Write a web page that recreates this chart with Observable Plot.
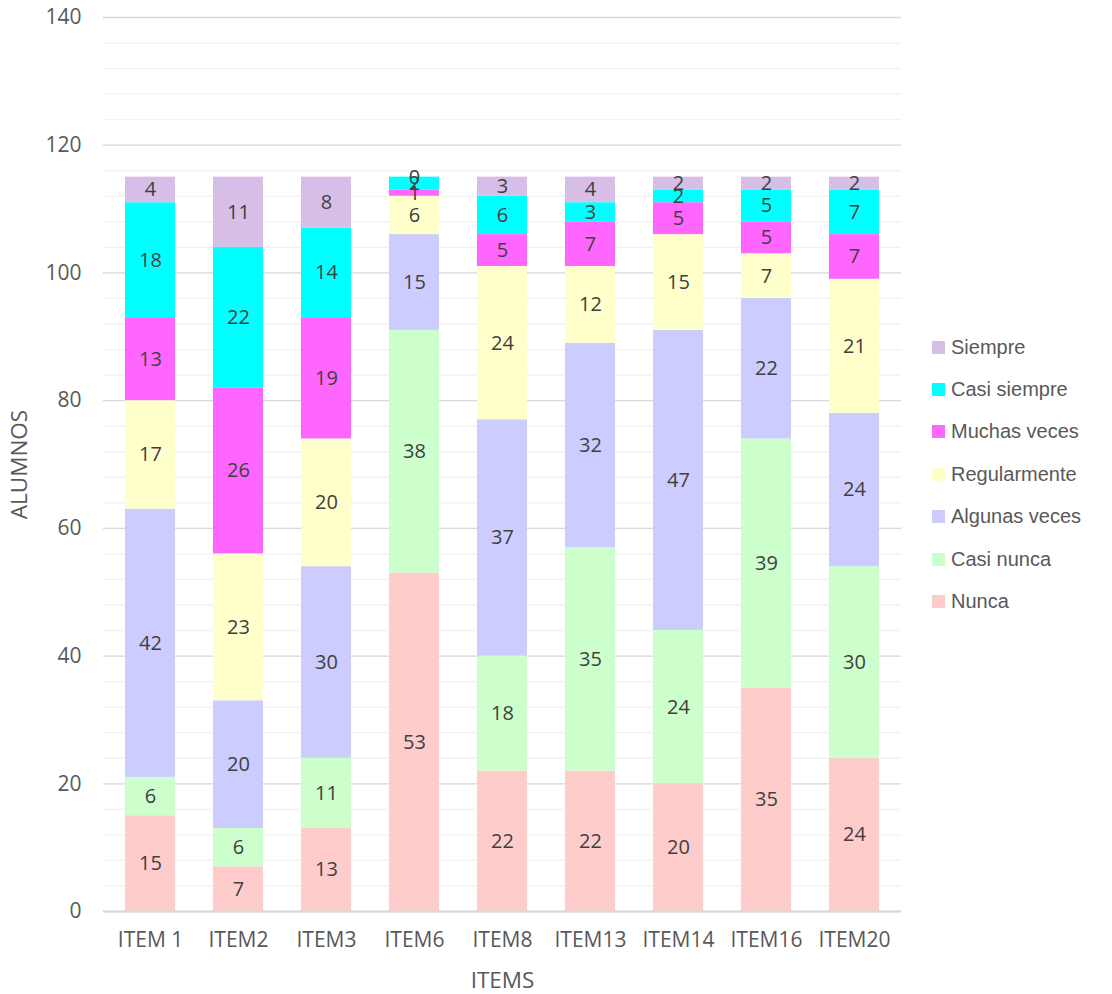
<!DOCTYPE html>
<html>
<head>
<meta charset="utf-8">
<script src="https://cdn.jsdelivr.net/npm/d3@7"></script>
<script src="https://cdn.jsdelivr.net/npm/@observablehq/plot@0.6"></script>
<style>
  html, body { margin: 0; padding: 0; background: #fff; }
  #wrap { position: relative; width: 1112px; height: 994px; }
  #chart { position: absolute; left: 0; top: 0; }
  #legend { position: absolute; left: 932px; top: 326px; font-family: "Liberation Sans", Arial, sans-serif; font-size: 20px; color: #595959; }
  .row { display: flex; align-items: center; height: 42.4px; white-space: nowrap; }
  .sw { width: 13px; height: 13px; margin-right: 6px; flex: none; }
</style>
</head>
<body>
<div id="wrap"><div id="chart"></div><div id="legend"></div></div>
<script>
const items = ["ITEM 1","ITEM2","ITEM3","ITEM6","ITEM8","ITEM13","ITEM14","ITEM16","ITEM20"];
const series = ["Nunca","Casi nunca","Algunas veces","Regularmente","Muchas veces","Casi siempre","Siempre"];
const nunca        = [15, 7, 13, 53, 22, 22, 20, 35, 24];
const casiNunca    = [ 6, 6, 11, 38, 18, 35, 24, 39, 30];
const algunasVeces = [42, 20, 30, 15, 37, 32, 47, 22, 24];
const regularmente = [17, 23, 20, 6, 24, 12, 15, 7, 21];
const muchasVeces  = [13, 26, 19, 1, 5, 7, 5, 5, 7];
const casiSiempre  = [18, 22, 14, 2, 6, 3, 2, 5, 7];
const siempre      = [ 4, 11, 8, 0, 3, 4, 2, 2, 2];
const colors = ["#FFCCCC","#CCFFCC","#CCCCFF","#FFFFCC","#FF66FF","#00FFFF","#D6BEE7"];
const yTicks = [0, 20, 40, 60, 80, 100, 120, 140];

const values = [nunca, casiNunca, algunasVeces, regularmente, muchasVeces, casiSiempre, siempre];
const data = [];
series.forEach((s, si) => items.forEach((it, ii) => data.push({item: it, series: s, value: values[si][ii]})));

const font = "'Open Sans', sans-serif";
const chart = Plot.plot({
  width: 920,
  height: 994,
  marginTop: 17,
  marginBottom: 83,
  marginLeft: 103,
  marginRight: 19,
  style: {fontFamily: font, fontSize: "20px", color: "#595959", background: "#fff"},
  x: {domain: items, paddingInner: 0.436, paddingOuter: 0.218},
  y: {domain: [0, 140]},
  color: {domain: series, range: colors},
  marks: [
    Plot.ruleY(d3.range(0, 141, 4), {stroke: "#F2F2F2", strokeWidth: 1.3}),
    Plot.ruleY(yTicks, {stroke: "#D9D9D9", strokeWidth: 1.3}),
    Plot.barY(data, Plot.stackY({x: "item", y: "value", z: "series", fill: "series", order: series})),
    Plot.ruleY([0], {stroke: "#D9D9D9", strokeWidth: 2}),
    Plot.text(data, Plot.stackY({x: "item", y: "value", z: "series", order: series, text: d => String(d.value), fill: "#404040", fontSize: 20, fontFamily: font})),
    Plot.axisY({ticks: yTicks, tickSize: 0, tickPadding: 22, fontSize: 21, label: "ALUMNOS", labelAnchor: "center", labelArrow: "none", labelOffset: 92}),
    Plot.axisX({tickSize: 0, tickPadding: 21, fontSize: 21, label: "ITEMS", labelAnchor: "center", labelArrow: "none", labelOffset: 76})
  ]
});
document.getElementById("chart").appendChild(chart);

// make axis titles larger
chart.querySelectorAll("g[aria-label='y-axis label'] text, g[aria-label='x-axis label'] text").forEach(t => t.setAttribute("font-size", "22.5px"));
chart.querySelectorAll("g[aria-label='y-axis label'], g[aria-label='x-axis label']").forEach(g => g.setAttribute("font-size", "22.5"));

const legend = document.getElementById("legend");
series.slice().reverse().forEach(s => {
  const row = document.createElement("div");
  row.className = "row";
  const sw = document.createElement("span");
  sw.className = "sw";
  sw.style.background = colors[series.indexOf(s)];
  const t = document.createElement("span");
  t.textContent = s;
  row.appendChild(sw); row.appendChild(t);
  legend.appendChild(row);
});
</script>
</body>
</html>
